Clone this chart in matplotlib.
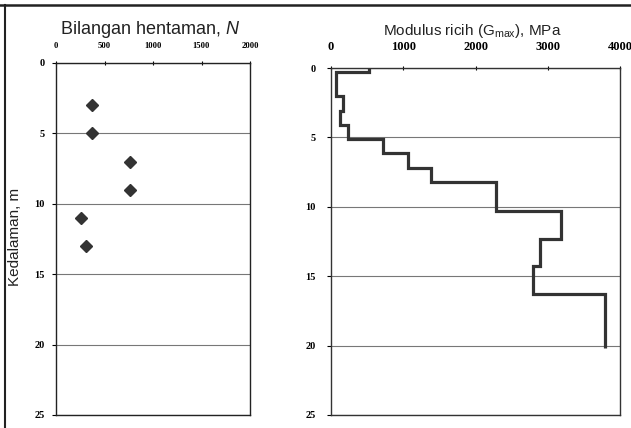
import matplotlib
matplotlib.use("Agg")
import matplotlib.pyplot as plt
from matplotlib.lines import Line2D

plt.rcParams['mathtext.fontset'] = 'custom'
plt.rcParams['mathtext.rm'] = 'Liberation Sans'
plt.rcParams['mathtext.it'] = 'Liberation Sans:italic'

# Data: SPT blow count N vs depth
n_depth = [3, 5, 7, 9, 11, 13]
n_values = [370, 370, 760, 760, 260, 310]

# Data: shear modulus profile (layer boundaries and Gmax per layer)
g_depth_bounds = [0, 0.3, 2.0, 3.1, 4.1, 5.1, 6.1, 7.2, 8.2, 10.3, 12.3, 14.3, 16.3, 20.2]
g_values = [520, 70, 170, 130, 240, 720, 1060, 1390, 2290, 3180, 2890, 2800, 3790]

depth_ticks = [0, 5, 10, 15, 20, 25]
n_ticks = [0, 500, 1000, 1500, 2000]
g_ticks = [0, 1000, 2000, 3000, 4000]

W, H = 631, 428
fig = plt.figure(figsize=(W / 100, H / 100), dpi=100)
fig.patch.set_facecolor('white')

def fx(px):
    return px / W

def fy(py):
    return 1 - py / H

# Left panel
ax1 = fig.add_axes([fx(56), fy(415), fx(250) - fx(56), fy(63) - fy(415)])
ax1.plot(n_values, n_depth, linestyle='none', marker='D', markersize=6.5,
         color='#333333', markeredgecolor='#333333')
ax1.set_xlim(0, 2000)
ax1.set_ylim(25, 0)
ax1.set_xticks(n_ticks)
ax1.set_yticks(depth_ticks)
ax1.xaxis.tick_top()
ax1.tick_params(axis='x', labelsize=6.2, pad=8, length=3, direction='inout', width=0.8)
ax1.tick_params(axis='y', labelsize=7.5, pad=5, length=3, width=0.8)
for lab in ax1.get_xticklabels() + ax1.get_yticklabels():
    lab.set_fontfamily('Liberation Serif')
    lab.set_fontweight('bold')
ax1.yaxis.grid(True, color='#777777', linewidth=0.8)
ax1.set_axisbelow(True)
for s in ax1.spines.values():
    s.set_color('#222222')
    s.set_linewidth(1.0)

# Right panel
ax2 = fig.add_axes([fx(331), fy(415), fx(620) - fx(331), fy(68) - fy(415)])
ax2.stairs(g_values, g_depth_bounds, orientation='horizontal', baseline=None,
           color='#333333', linewidth=2.3)
ax2.set_xlim(0, 4000)
ax2.set_ylim(25, 0)
ax2.set_xticks(g_ticks)
ax2.set_yticks(depth_ticks)
ax2.xaxis.tick_top()
ax2.tick_params(axis='x', labelsize=9.0, pad=9, length=3, direction='inout', width=0.8)
ax2.tick_params(axis='y', labelsize=7.5, pad=8, length=3, width=0.8)
for lab in ax2.get_xticklabels() + ax2.get_yticklabels():
    lab.set_fontfamily('Liberation Serif')
    lab.set_fontweight('bold')
ax2.yaxis.grid(True, color='#777777', linewidth=0.8)
ax2.set_axisbelow(True)
for s in ax2.spines.values():
    s.set_color('#333333')
    s.set_linewidth(1.0)

# Titles
fig.text(fx(150), fy(34), 'Bilangan hentaman, $\\it{N}$', ha='center', va='baseline',
         fontsize=13, family='Liberation Sans', color='#222222')
fig.text(fx(472), fy(35), 'Modulus ricih (G$_{\\mathregular{max}}$), MPa', ha='center', va='baseline',
         fontsize=11, family='Liberation Sans', color='#222222')
fig.text(fx(15), fy(237), 'Kedalaman, m', ha='center', va='center', rotation=90,
         fontsize=11, family='Liberation Sans', color='#222222')

# Outer frame lines
fig.add_artist(Line2D([0, 1], [fy(5), fy(5)], transform=fig.transFigure, color='#222222', linewidth=1.8))
fig.add_artist(Line2D([fx(5), fx(5)], [0, fy(5)], transform=fig.transFigure, color='#222222', linewidth=1.5))

fig.savefig('out.png', dpi=100)
